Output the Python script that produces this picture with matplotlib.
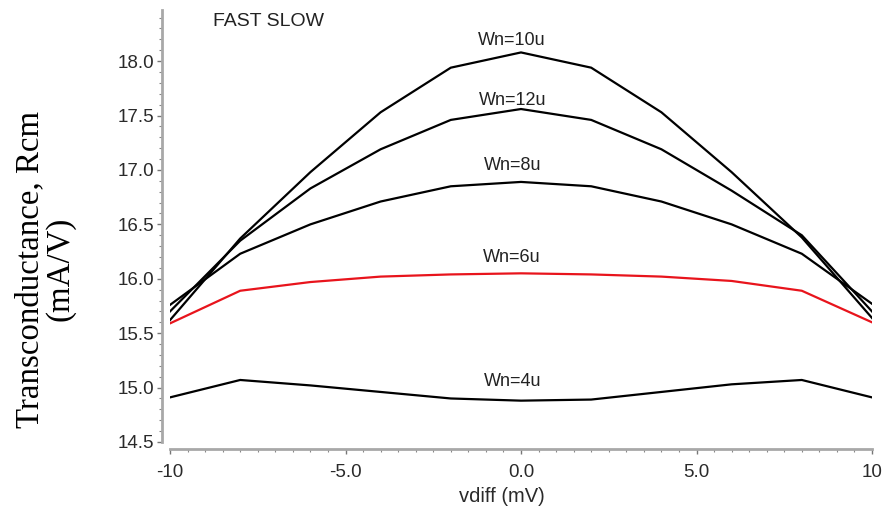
import matplotlib
matplotlib.use("Agg")
import matplotlib.pyplot as plt
from matplotlib.ticker import MultipleLocator, FixedLocator

# Differential input voltage sweep (mV)
vdiff = [-10, -8, -6, -4, -2, 0, 2, 4, 6, 8, 10]

# Transconductance (mA/V) for each device width, FAST SLOW corner
gm_wn10 = [15.62, 16.37, 16.98, 17.53, 17.94, 18.08, 17.94, 17.53, 16.98, 16.38, 15.64]
gm_wn12 = [15.70, 16.35, 16.83, 17.19, 17.46, 17.56, 17.46, 17.19, 16.81, 16.40, 15.70]
gm_wn8 = [15.76, 16.23, 16.50, 16.71, 16.85, 16.89, 16.85, 16.71, 16.50, 16.23, 15.77]
gm_wn6 = [15.59, 15.89, 15.97, 16.02, 16.04, 16.05, 16.04, 16.02, 15.98, 15.89, 15.60]
gm_wn4 = [14.91, 15.07, 15.02, 14.96, 14.90, 14.88, 14.89, 14.96, 15.03, 15.07, 14.91]

series = [
    ("Wn=10u", gm_wn10, "black", 18.19),
    ("Wn=12u", gm_wn12, "black", 17.64),
    ("Wn=8u", gm_wn8, "black", 17.04),
    ("Wn=6u", gm_wn6, "#e8141c", 16.20),
    ("Wn=4u", gm_wn4, "black", 15.06),
]

x_ticks = [-10, -5, 0, 5, 10]
x_ticklabels = ["-10", "-5.0", "0.0", "5.0", "10"]
y_ticks = [14.5, 15.0, 15.5, 16.0, 16.5, 17.0, 17.5, 18.0]
y_ticklabels = ["14.5", "15.0", "15.5", "16.0", "16.5", "17.0", "17.5", "18.0"]

sans = ["Liberation Sans", "DejaVu Sans"]
serif = ["Liberation Serif", "DejaVu Serif"]

W, H = 886, 512
fig = plt.figure(figsize=(W / 100, H / 100), dpi=100)
ax = fig.add_axes([170 / W, 1 - 442 / H, (872 - 170) / W, (442 - 10) / H])

for label, vals, color, ly in series:
    ax.plot(vdiff, vals, color=color, lw=1.6, solid_joinstyle="miter")
    ax.text(-0.25, ly, label, ha="center", va="center", fontsize=13,
            family=sans, color="#222222")

ax.text(-8.78, 18.36, "FAST SLOW", ha="left", va="center", fontsize=14,
        family=sans, color="#222222")

ax.set_xlim(-10, 10)
ax.set_ylim(14.5, 18.47)

spine_col = "#a8a8a8"
for side in ("top", "right"):
    ax.spines[side].set_visible(False)
ax.spines["left"].set_position(("outward", 5.8))
ax.spines["bottom"].set_position(("outward", 5.0))
ax.spines["left"].set_bounds(14.5, 18.47)
ax.spines["bottom"].set_bounds(-10, 10)
for side in ("left", "bottom"):
    ax.spines[side].set_color(spine_col)
    ax.spines[side].set_linewidth(2.0)

ax.xaxis.set_major_locator(FixedLocator(x_ticks))
ax.set_xticklabels(x_ticklabels)
ax.xaxis.set_minor_locator(MultipleLocator(0.5))
ax.yaxis.set_major_locator(FixedLocator(y_ticks))
ax.set_yticklabels(y_ticklabels)
ax.yaxis.set_minor_locator(MultipleLocator(0.1))

ax.tick_params(axis="both", which="major", direction="out", length=3.5,
               width=1.0, color="#777777", labelsize=13.5, labelcolor="#2a2a2a")
ax.tick_params(axis="both", which="minor", direction="out", length=2.5,
               width=0.8, color="#888888")
ax.tick_params(axis="x", which="major", pad=7)
ax.tick_params(axis="y", which="major", pad=2)
for lab in ax.get_xticklabels() + ax.get_yticklabels():
    lab.set_family(sans)

fig.text(502 / W, 1 - 496 / H, "vdiff (mV)", ha="center", va="center",
         fontsize=14.5, family=sans, color="#2a2a2a")
fig.text(45 / W, 1 - 269 / H, "Transconductance, Rcm\n(mA/V)", rotation=90,
         ha="center", va="center", multialignment="center", fontsize=23.7,
         family=serif, linespacing=1.0, color="black")

fig.savefig("out.png", dpi=100)
